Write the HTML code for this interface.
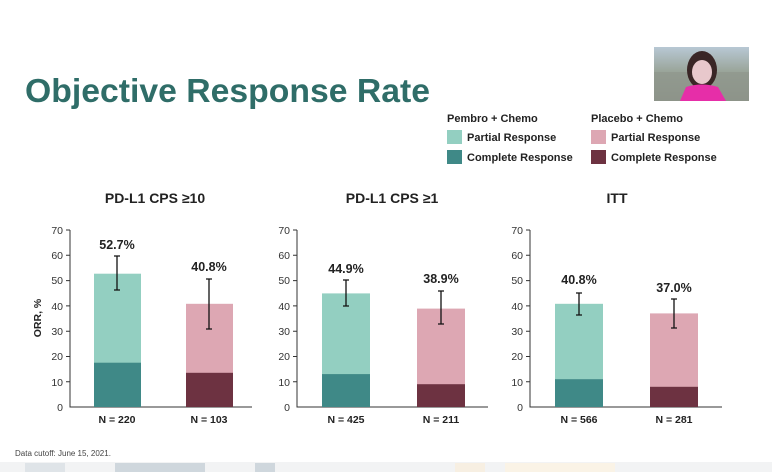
<!DOCTYPE html>
<html><head><meta charset="utf-8"><style>
html,body{margin:0;padding:0;background:#fff;}
svg{display:block;font-family:"Liberation Sans",Arial,sans-serif;}
</style></head><body>
<svg width="772" height="472" viewBox="0 0 772 472" xmlns="http://www.w3.org/2000/svg">
<defs>
<linearGradient id="sky" x1="0" y1="0" x2="0" y2="1"><stop offset="0" stop-color="#b8c8d4"/><stop offset="0.45" stop-color="#9aa59a"/><stop offset="1" stop-color="#8a8f84"/></linearGradient>
</defs>
<rect width="772" height="472" fill="#fff"/>
<rect x="0" y="462" width="772" height="10" fill="#f2f3f4"/>
<rect x="25" y="463" width="40" height="9" fill="#dfe4e8"/>
<rect x="115" y="463" width="90" height="9" fill="#cfd7dd"/>
<rect x="255" y="463" width="20" height="9" fill="#cfd7dd"/>
<rect x="505" y="463" width="110" height="9" fill="#faf3e6"/>
<rect x="455" y="463" width="30" height="9" fill="#f7efe2"/>
<!-- title -->
<text x="25" y="102" font-size="33" font-weight="bold" fill="#2f6d68" textLength="405" lengthAdjust="spacingAndGlyphs">Objective Response Rate</text>
<!-- webcam -->
<rect x="654" y="47" width="95" height="54" fill="url(#sky)"/>
<rect x="654" y="72" width="95" height="29" fill="#8e958c" opacity="0.7"/>
<ellipse cx="702" cy="70" rx="15" ry="19" fill="#3a2626"/>
<ellipse cx="702" cy="72" rx="10" ry="12" fill="#e8c8cc"/>
<path d="M680 101 L686 87 Q702 82 718 87 L726 101 Z" fill="#e62ea8"/>
<!-- legend -->
<g font-size="11" font-weight="bold" fill="#222">
<text x="447" y="122">Pembro + Chemo</text>
<text x="591" y="122">Placebo + Chemo</text>
<rect x="447" y="130" width="15" height="14" fill="#93cfc1"/>
<text x="467" y="141">Partial Response</text>
<rect x="447" y="150" width="15" height="14" fill="#3f8987"/>
<text x="467" y="161">Complete Response</text>
<rect x="591" y="130" width="15" height="14" fill="#dda7b3"/>
<text x="611" y="141">Partial Response</text>
<rect x="591" y="150" width="15" height="14" fill="#6d3241"/>
<text x="611" y="161">Complete Response</text>
</g>
<!-- panel titles -->
<g font-size="14" font-weight="bold" fill="#222" text-anchor="middle">
<text x="155" y="203">PD-L1 CPS ≥10</text>
<text x="392" y="203">PD-L1 CPS ≥1</text>
<text x="617" y="203">ITT</text>
</g>
<text transform="translate(41,318) rotate(-90)" font-size="10.5" font-weight="bold" fill="#222" text-anchor="middle">ORR, %</text>
<!-- axes -->
<g stroke="#333" stroke-width="1" fill="none">
<path d="M70 230 V407 H252"/>
<path d="M297 230 V407 H488"/>
<path d="M530 230 V407 H722"/>
<path d="M66 230H70M66 255.3H70M66 280.6H70M66 305.9H70M66 331.2H70M66 356.5H70M66 381.8H70"/>
<path d="M293 230H297M293 255.3H297M293 280.6H297M293 305.9H297M293 331.2H297M293 356.5H297M293 381.8H297"/>
<path d="M526 230H530M526 255.3H530M526 280.6H530M526 305.9H530M526 331.2H530M526 356.5H530M526 381.8H530"/>
</g>
<g font-size="10.5" fill="#333" text-anchor="end">
<text x="63" y="234">70</text><text x="63" y="259">60</text><text x="63" y="284">50</text><text x="63" y="310">40</text><text x="63" y="335">30</text><text x="63" y="360">20</text><text x="63" y="386">10</text><text x="63" y="411">0</text>
<text x="290" y="234">70</text><text x="290" y="259">60</text><text x="290" y="284">50</text><text x="290" y="310">40</text><text x="290" y="335">30</text><text x="290" y="360">20</text><text x="290" y="386">10</text><text x="290" y="411">0</text>
<text x="523" y="234">70</text><text x="523" y="259">60</text><text x="523" y="284">50</text><text x="523" y="310">40</text><text x="523" y="335">30</text><text x="523" y="360">20</text><text x="523" y="386">10</text><text x="523" y="411">0</text>
</g>
<!-- bars: y(v)=407-2.53v -->
<!-- panel1 -->
<rect x="94" y="273.7" width="47" height="133.3" fill="#93cfc1"/>
<rect x="94" y="362.7" width="47" height="44.3" fill="#3f8987"/>
<rect x="186" y="303.8" width="47" height="103.2" fill="#dda7b3"/>
<rect x="186" y="372.8" width="47" height="34.2" fill="#6d3241"/>
<!-- panel2 -->
<rect x="322" y="293.4" width="48" height="113.6" fill="#93cfc1"/>
<rect x="322" y="374.1" width="48" height="32.9" fill="#3f8987"/>
<rect x="417" y="308.6" width="48" height="98.4" fill="#dda7b3"/>
<rect x="417" y="384.2" width="48" height="22.8" fill="#6d3241"/>
<!-- panel3 -->
<rect x="555" y="303.8" width="48" height="103.2" fill="#93cfc1"/>
<rect x="555" y="379.2" width="48" height="27.8" fill="#3f8987"/>
<rect x="650" y="313.4" width="48" height="93.6" fill="#dda7b3"/>
<rect x="650" y="386.8" width="48" height="20.2" fill="#6d3241"/>
<!-- error bars -->
<g stroke="#111" stroke-width="1.3">
<path d="M117 256V290M114 256H120M114 290H120"/>
<path d="M209 279V329M206 279H212M206 329H212"/>
<path d="M346 280V306M343 280H349M343 306H349"/>
<path d="M441 291V324M438 291H444M438 324H444"/>
<path d="M579 293V315M576 293H582M576 315H582"/>
<path d="M674 299V328M671 299H677M671 328H677"/>
</g>
<g font-size="12.5" font-weight="bold" fill="#222" text-anchor="middle">
<text x="117" y="249">52.7%</text>
<text x="209" y="271">40.8%</text>
<text x="346" y="273">44.9%</text>
<text x="441" y="283">38.9%</text>
<text x="579" y="284">40.8%</text>
<text x="674" y="292">37.0%</text>
</g>
<g font-size="10.5" font-weight="bold" fill="#222" text-anchor="middle">
<text x="117" y="423">N = 220</text>
<text x="209" y="423">N = 103</text>
<text x="346" y="423">N = 425</text>
<text x="441" y="423">N = 211</text>
<text x="579" y="423">N = 566</text>
<text x="674" y="423">N = 281</text>
</g>
<text x="15" y="456" font-size="8" fill="#444">Data cutoff: June 15, 2021.</text>
</svg>
</body></html>
